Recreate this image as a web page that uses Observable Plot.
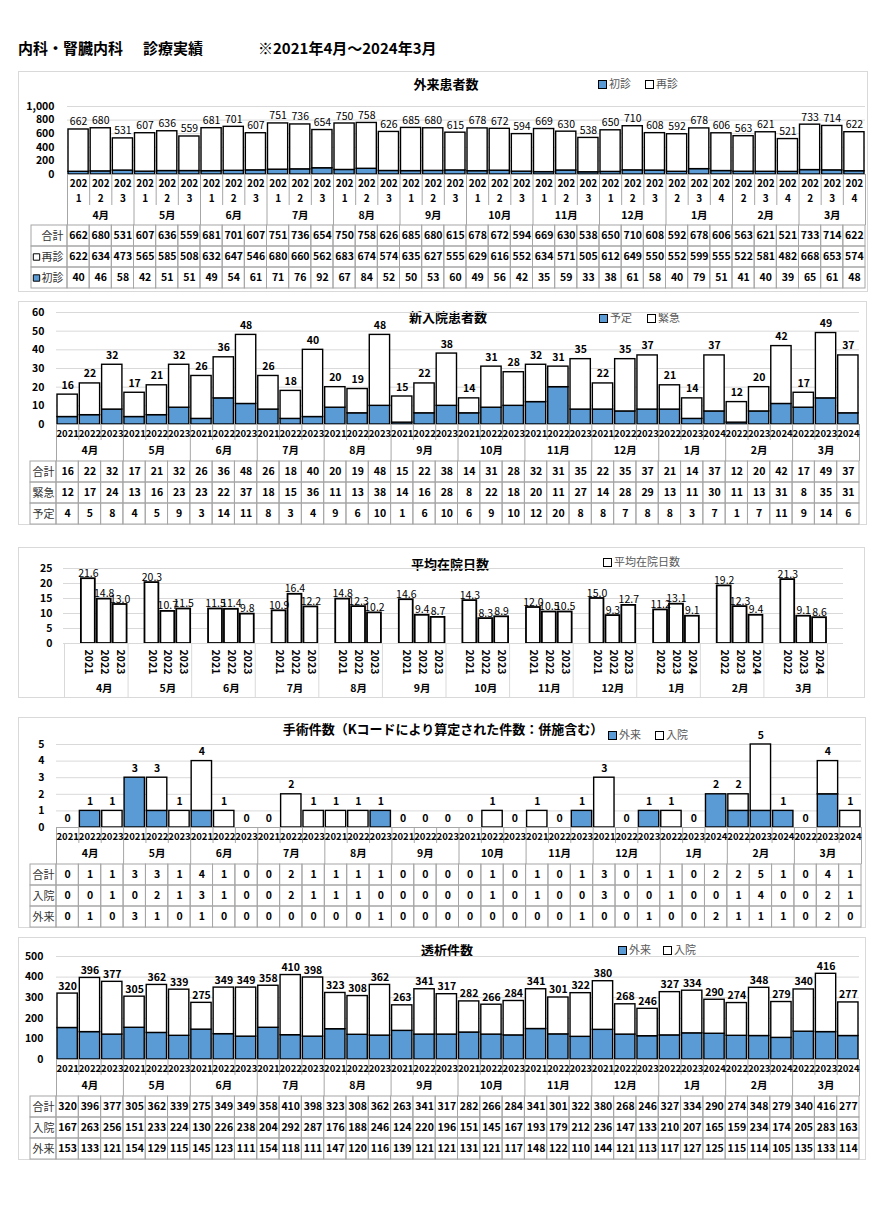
<!DOCTYPE html>
<html><head><meta charset="utf-8">
<script src="https://cdn.jsdelivr.net/npm/d3@7"></script>
<script src="https://cdn.jsdelivr.net/npm/@observablehq/plot@0.6"></script>
<style>
body{margin:0;background:#fff;font-family:"Noto Sans CJK JP",sans-serif;}
#root{position:relative;width:887px;height:1205px;overflow:hidden;}
.box{position:absolute;border:1px solid #d9d9d9;box-sizing:border-box;}
.ttl{position:absolute;font-weight:bold;font-size:13px;line-height:18px;white-space:nowrap;transform:translateX(-50%);color:#000;}
.main{position:absolute;font-weight:bold;font-size:15px;line-height:18px;white-space:nowrap;color:#000;}
.leg{position:absolute;font-size:11px;line-height:16px;color:#595959;white-space:nowrap;}
.key{display:inline-block;width:7px;height:7px;border:1px solid #000;margin-right:2px;vertical-align:middle;position:relative;top:-1px;}
</style></head><body><div id="root"></div><script>
// ---------- data ----------
const months = ["4月","5月","6月","7月","8月","9月","10月","11月","12月","1月","2月","3月"];
const yearsAprDec = ["2021","2022","2023"];
const yearsJanMar = ["2022","2023","2024"];

const outTotal   = [662,680,531,607,636,559,681,701,607,751,736,654,750,758,626,685,680,615,678,672,594,669,630,538,650,710,608,592,678,606,563,621,521,733,714,622];
const outRevisit = [622,634,473,565,585,508,632,647,546,680,660,562,683,674,574,635,627,555,629,616,552,634,571,505,612,649,550,552,599,555,522,581,482,668,653,574];
const outFirst   = [40,46,58,42,51,51,49,54,61,71,76,92,67,84,52,50,53,60,49,56,42,35,59,33,38,61,58,40,79,51,41,40,39,65,61,48];

const admTotal     = [16,22,32,17,21,32,26,36,48,26,18,40,20,19,48,15,22,38,14,31,28,32,31,35,22,35,37,21,14,37,12,20,42,17,49,37];
const admEmergency = [12,17,24,13,16,23,23,22,37,18,15,36,11,13,38,14,16,28,8,22,18,20,11,27,14,28,29,13,11,30,11,13,31,8,35,31];
const admPlanned   = [4,5,8,4,5,9,3,14,11,8,3,4,9,6,10,1,6,10,6,9,10,12,20,8,8,7,8,8,3,7,1,7,11,9,14,6];

const stayDays = [21.6,14.8,13.0,20.3,10.7,11.5,11.5,11.4,9.8,10.9,16.4,12.2,14.8,12.3,10.2,14.6,9.4,8.7,14.3,8.3,8.9,12.0,10.5,10.5,15.0,9.3,12.7,11.2,13.1,9.1,19.2,12.3,9.4,21.3,9.1,8.6];

const opTotal      = [0,1,1,3,3,1,4,1,0,0,2,1,1,1,1,0,0,0,0,1,0,1,0,1,3,0,1,1,0,2,2,5,1,0,4,1];
const opInpatient  = [0,0,1,0,2,1,3,1,0,0,2,1,1,1,0,0,0,0,0,1,0,1,0,0,3,0,0,1,0,0,1,4,0,0,2,1];
const opOutpatient = [0,1,0,3,1,0,1,0,0,0,0,0,0,0,1,0,0,0,0,0,0,0,0,1,0,0,1,0,0,2,1,1,1,0,2,0];

const dialTotal      = [320,396,377,305,362,339,275,349,349,358,410,398,323,308,362,263,341,317,282,266,284,341,301,322,380,268,246,327,334,290,274,348,279,340,416,277];
const dialInpatient  = [167,263,256,151,233,224,130,226,238,204,292,287,176,188,246,124,220,196,151,145,167,193,179,212,236,147,133,210,207,165,159,234,174,205,283,163];
const dialOutpatient = [153,133,121,154,129,115,145,123,111,154,118,111,147,120,116,139,121,121,131,121,117,148,122,110,144,121,113,117,127,125,115,114,105,135,133,114];

// ---------- helpers ----------
const BLUE = "#5b9bd5", TBL = "#a6a6a6", GRID = "#d9d9d9";
const FONT = '"Noto Sans CJK JP", "Noto Sans", sans-serif';
const ST = {fontFamily: FONT, fontSize: "10.5px", overflow: "visible", background: "none", color: "black"};
const root = document.getElementById("root");
const cols = months.flatMap((m, g) => (g < 9 ? yearsAprDec : yearsJanMar).map((y, j) => ({month: m, year: y, g, j, i: g * 3 + j})));

function div(cls, css, html) {
  const d = document.createElement("div");
  d.className = cls; d.style.cssText = css; d.innerHTML = html; root.append(d); return d;
}
function put(svg, left, top) {
  svg.style.position = "absolute"; svg.style.left = left + "px"; svg.style.top = top + "px";
  root.append(svg);
}
function boxDiv(b) { div("box", `left:${b.left}px;top:${b.top}px;width:${b.right - b.left}px;height:${b.bottom - b.top}px;`, ""); }
function title(t, x, y) { div("ttl", `left:${x}px;top:${y - 9}px;`, t); }
function legend(x, y, fill, label) {
  div("leg", `left:${x}px;top:${y - 8}px;`, `<span class="key" style="background:${fill}"></span>${label}`);
}

// main title
div("main", "left:18px;top:39px;", "内科・腎臓内科");
div("main", "left:143px;top:39px;", "診療実績");
div("main", "left:258px;top:39px;", "※2021年4月～2024年3月");

function stackedPanel(cfg) {
  const b = cfg.box;
  boxDiv(b);
  title(cfg.title, cfg.titleX, cfg.titleY);
  cfg.legend.forEach(e => legend(e.x, cfg.legendY, e.fill, e.label));
  const N = cols.length;
  const W = b.right - b.left;
  const xr = [cfg.xL - b.left, cfg.xR - b.left];
  const mL = cfg.xL - b.left, mR = b.right - cfg.xR;
  const data = cols.map((c, k) => ({...c, lo: cfg.lower[k], hi: cfg.upper[k], total: cfg.total[k]}));
  const ins = {insetLeft: 1, insetRight: 1};
  const chart = Plot.plot({
    width: W, height: cfg.y0 - cfg.chartTop, marginTop: cfg.yTop - cfg.chartTop, marginBottom: 0,
    marginLeft: mL, marginRight: mR, style: ST,
    x: {domain: [0, N], range: xr, axis: null},
    y: {domain: [0, cfg.yMax]},
    marks: [
      Plot.gridY(cfg.yTicks, {stroke: GRID, strokeOpacity: 1}),
      Plot.axisY(cfg.yTicks, {tickSize: 0, tickPadding: cfg.tickPad, tickFormat: cfg.yFmt, fontWeight: "bold", label: null, fontSize: 10.5}),
      Plot.rectY(data, {filter: d => d.lo > 0, x1: "i", x2: d => d.i + 1, y1: 0, y2: "lo", fill: BLUE, stroke: "black", strokeWidth: 1.4, ...ins}),
      Plot.rectY(data, {filter: d => d.hi > 0, x1: "i", x2: d => d.i + 1, y1: "lo", y2: d => d.lo + d.hi, fill: "white", stroke: "black", strokeWidth: 1.4, ...ins}),
      Plot.ruleY([0], {stroke: TBL}),
      Plot.text(data, {x: d => d.i + 0.5, y: d => d.lo + d.hi, text: d => String(d.total), lineAnchor: "bottom", dy: cfg.labelDy, fontWeight: cfg.labelWeight, fill: "black"})
    ]
  });
  put(chart, b.left, cfg.chartTop);

  const yr = Plot.plot({
    width: W, height: cfg.yearBottom - cfg.y0, margin: 0, marginLeft: mL, marginRight: mR, style: ST,
    x: {domain: [0, N], range: xr, axis: null},
    marks: [
      Plot.ruleX(d3.range(N + 1), {stroke: TBL}),
      Plot.text(data, {x: d => d.i + 0.5, text: d => cfg.yearFmt(d.year), frameAnchor: "middle", fontWeight: "bold", lineHeight: 1.45, fontSize: cfg.yearFont, fill: "black"})
    ]
  });
  put(yr, b.left, cfg.y0);

  const mo = Plot.plot({
    width: W, height: cfg.monthBottom - cfg.yearBottom, margin: 0, marginLeft: mL, marginRight: mR, style: ST,
    x: {domain: [0, N], range: xr, axis: null},
    marks: [
      Plot.ruleX(d3.range(0, N + 1, 3), {stroke: TBL}),
      Plot.text(months, {x: (d, g) => g * 3 + 1.5, text: d => d, frameAnchor: "middle", fontWeight: "bold", fill: "black"})
    ]
  });
  put(mo, b.left, cfg.yearBottom);

  const colW = (cfg.xR - cfg.xL) / N;
  const L = (cfg.xL - cfg.tableLeft) / colW;
  const rows = cfg.rows;
  const cells = rows.flatMap(r => r.values.map((v, i) => ({row: r.label, i, v})));
  const tb = Plot.plot({
    width: W, height: cfg.tableBottom - cfg.monthBottom, margin: 0,
    marginLeft: cfg.tableLeft - b.left, marginRight: mR, style: ST,
    x: {domain: [-L, N], range: [cfg.tableLeft - b.left, cfg.xR - b.left], axis: null},
    y: {domain: rows.map(r => r.label), padding: 0, axis: null},
    marks: [
      Plot.barX(cells, {x1: "i", x2: d => d.i + 1, y: "row", fill: "none", stroke: TBL}),
      Plot.barX(rows, {x1: -L, x2: 0, y: "label", fill: "none", stroke: TBL}),
      Plot.text(cells, {x: d => d.i + 0.5, y: "row", text: d => String(d.v), fontWeight: "bold", fill: "black"}),
      cfg.rowAlign === "end"
        ? Plot.text(rows, {x: 0, y: "label", text: "label", textAnchor: "end", dx: -4, fill: "#333", fontSize: 11})
        : Plot.text(rows, {x: -L / 2, y: "label", text: "label", fill: "#333", fontSize: 11}),
      Plot.dot(rows.filter(r => r.key === "white"), {x: -L, y: "label", dx: 5, symbol: "square", r: 3.6, fill: "white", stroke: "black", strokeWidth: 1}),
      Plot.dot(rows.filter(r => r.key === "blue"), {x: -L, y: "label", dx: 5, symbol: "square", r: 3.6, fill: BLUE, stroke: "black", strokeWidth: 1})
    ]
  });
  put(tb, b.left, cfg.monthBottom);
}

// Panel 1: 外来患者数
stackedPanel({
  box: {left: 18, top: 71, right: 868, bottom: 292},
  title: "外来患者数", titleX: 446, titleY: 84,
  legendY: 83, legend: [{x: 598, fill: BLUE, label: "初診"}, {x: 645, fill: "white", label: "再診"}],
  xL: 67, xR: 865, y0: 174, yTop: 106, chartTop: 95, yMax: 1000,
  yTicks: [0, 200, 400, 600, 800, 1000], yFmt: d3.format(","), tickPad: 13,
  lower: outFirst, upper: outRevisit, total: outTotal, labelDy: -4, labelWeight: "normal",
  yearBottom: 205, monthBottom: 225, tableBottom: 288, tableLeft: 31,
  yearFmt: y => y.slice(0, 3) + "\n" + y.slice(3), yearFont: 10,
  rowAlign: "end",
  rows: [{label: "合計", values: outTotal}, {label: "再診", values: outRevisit, key: "white"}, {label: "初診", values: outFirst, key: "blue"}]
});

// Panel 2: 新入院患者数
stackedPanel({
  box: {left: 18, top: 301, right: 867, bottom: 525},
  title: "新入院患者数", titleX: 448, titleY: 317,
  legendY: 317, legend: [{x: 599, fill: BLUE, label: "予定"}, {x: 647, fill: "white", label: "緊急"}],
  xL: 56, xR: 859, y0: 424, yTop: 312, chartTop: 305, yMax: 60,
  yTicks: [0, 10, 20, 30, 40, 50, 60], yFmt: d3.format("d"), tickPad: 12,
  lower: admPlanned, upper: admEmergency, total: admTotal, labelDy: -6, labelWeight: "bold",
  yearBottom: 440, monthBottom: 461, tableBottom: 524, tableLeft: 30,
  yearFmt: y => y, yearFont: 9.5,
  rowAlign: "middle",
  rows: [{label: "合計", values: admTotal}, {label: "緊急", values: admEmergency}, {label: "予定", values: admPlanned}]
});

// Panel 3: 平均在院日数
(function stayPanel() {
  const b = {left: 18, top: 547, right: 865, bottom: 698};
  boxDiv(b);
  title("平均在院日数", 450, 564);
  legend(603, 561, "white", "平均在院日数");
  const W = b.right - b.left, S = months.length * 4;
  const xr = [64 - b.left, 827 - b.left];
  const mL = 63 - b.left, mR = b.right - 843;
  const data = cols.map((c, k) => ({...c, s: c.g * 4 + 1 + c.j, v: stayDays[k]}));
  const yTicks = [0, 5, 10, 15, 20, 25];
  const chartTop = 550, y0 = 643;
  const chart = Plot.plot({
    width: W, height: y0 - chartTop, marginTop: 568 - chartTop, marginBottom: 0, marginLeft: mL, marginRight: mR, style: ST,
    x: {domain: [0, S], range: xr, axis: null},
    y: {domain: [0, 25]},
    marks: [
      Plot.gridY(yTicks, {stroke: GRID, strokeOpacity: 1}),
      Plot.axisY(yTicks, {tickSize: 0, tickPadding: 11, fontWeight: "bold", label: null, fontSize: 10.5}),
      Plot.rectY(data, {x1: "s", x2: d => d.s + 1, y1: 0, y2: "v", fill: "white", stroke: "black", strokeWidth: 1.8, insetLeft: 1, insetRight: 1}),
      Plot.ruleY([0], {stroke: GRID}),
      Plot.text(data, {x: d => d.s + 0.5, y: "v", text: d => d3.format(".1f")(d.v), lineAnchor: "bottom", dy: -2, fill: "black", fontSize: 10.5})
    ]
  });
  put(chart, b.left, chartTop);
  const yr = Plot.plot({
    width: W, height: 680 - y0, margin: 0, marginLeft: mL, marginRight: mR, style: ST,
    x: {domain: [0, S], range: xr, axis: null},
    marks: [
      Plot.ruleX(d3.range(0, S + 1, 4), {stroke: GRID}),
      Plot.text(data, {x: d => d.s + 0.5, text: "year", rotate: 90, frameAnchor: "middle", fontWeight: "bold", fill: "black"})
    ]
  });
  put(yr, b.left, y0);
  const mo = Plot.plot({
    width: W, height: 697 - 680, margin: 0, marginLeft: mL, marginRight: mR, style: ST,
    x: {domain: [0, S], range: xr, axis: null},
    marks: [
      Plot.ruleX(d3.range(0, S + 1, 4), {stroke: GRID}),
      Plot.text(months, {x: (d, g) => g * 4 + 2.5, text: d => d, frameAnchor: "middle", fontWeight: "bold", fill: "black"})
    ]
  });
  put(mo, b.left, 680);
})();

// Panel 4: 手術件数
stackedPanel({
  box: {left: 18, top: 717, right: 866, bottom: 928},
  title: "手術件数（Kコードにより算定された件数：併施含む）", titleX: 443, titleY: 729,
  legendY: 734, legend: [{x: 608, fill: BLUE, label: "外来"}, {x: 655, fill: "white", label: "入院"}],
  xL: 56, xR: 861, y0: 827, yTop: 744, chartTop: 722, yMax: 5,
  yTicks: [0, 1, 2, 3, 4, 5], yFmt: d3.format("d"), tickPad: 12,
  lower: opOutpatient, upper: opInpatient, total: opTotal, labelDy: -6, labelWeight: "bold",
  yearBottom: 843, monthBottom: 864, tableBottom: 927, tableLeft: 30,
  yearFmt: y => y, yearFont: 9.5,
  rowAlign: "middle",
  rows: [{label: "合計", values: opTotal}, {label: "入院", values: opInpatient}, {label: "外来", values: opOutpatient}]
});

// Panel 5: 透析件数
stackedPanel({
  box: {left: 18, top: 937, right: 866, bottom: 1160},
  title: "透析件数", titleX: 447, titleY: 950,
  legendY: 949, legend: [{x: 618, fill: BLUE, label: "外来"}, {x: 663, fill: "white", label: "入院"}],
  xL: 56, xR: 859, y0: 1059, yTop: 956, chartTop: 941, yMax: 500,
  yTicks: [0, 100, 200, 300, 400, 500], yFmt: d3.format("d"), tickPad: 13,
  lower: dialOutpatient, upper: dialInpatient, total: dialTotal, labelDy: -4, labelWeight: "bold",
  yearBottom: 1075, monthBottom: 1096, tableBottom: 1159, tableLeft: 30,
  yearFmt: y => y, yearFont: 9.5,
  rowAlign: "middle",
  rows: [{label: "合計", values: dialTotal}, {label: "入院", values: dialInpatient}, {label: "外来", values: dialOutpatient}]
});
</script></body></html>
